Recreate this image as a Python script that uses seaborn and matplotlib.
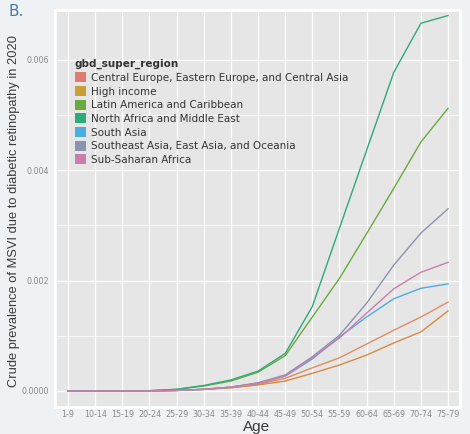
import pandas as pd
import matplotlib.pyplot as plt
import seaborn as sns
from matplotlib.patches import Patch
from matplotlib.ticker import FixedLocator

# --- DATA ---
ages = ["1-9", "10-14", "15-19", "20-24", "25-29", "30-34", "35-39", "40-44",
        "45-49", "50-54", "55-59", "60-64", "65-69", "70-74", "75-79"]

regions = ["Central Europe, Eastern Europe, and Central Asia", "High income",
           "Latin America and Caribbean", "North Africa and Middle East",
           "South Asia", "Southeast Asia, East Asia, and Oceania",
           "Sub-Saharan Africa"]

central_europe = [0, 0, 0, 0, 0.00001, 0.00003, 0.00006, 0.00012, 0.00023,
                  0.00042, 0.0006, 0.00085, 0.0011, 0.00134, 0.00161]
high_income = [0, 0, 0, 0, 0.00001, 0.00003, 0.00006, 0.00011, 0.00018,
               0.00032, 0.00047, 0.00065, 0.00087, 0.00107, 0.00145]
latin_america = [0, 0, 0, 0.000005, 0.00003, 0.00009, 0.00018, 0.00034, 0.00064,
                 0.00134, 0.00204, 0.00285, 0.00367, 0.00451, 0.00512]
north_africa = [0, 0, 0, 0.000005, 0.00003, 0.0001, 0.0002, 0.00036, 0.00068,
                0.00153, 0.00295, 0.00436, 0.00577, 0.00666, 0.0068]
south_asia = [0, 0, 0, 0, 0.00001, 0.00003, 0.00007, 0.00014, 0.00027,
              0.00058, 0.00098, 0.00134, 0.00167, 0.00186, 0.00194]
southeast_asia = [0, 0, 0, 0, 0.00001, 0.00003, 0.00007, 0.00015, 0.00029,
                  0.00062, 0.00101, 0.00159, 0.00228, 0.00286, 0.0033]
sub_saharan = [0, 0, 0, 0, 0.00001, 0.00003, 0.00007, 0.00014, 0.00027,
               0.0006, 0.00096, 0.00141, 0.00185, 0.00215, 0.00233]

series = [central_europe, high_income, latin_america, north_africa,
          south_asia, southeast_asia, sub_saharan]

legend_colors = ["#E07B72", "#C9A033", "#6AAA3F", "#2FAA7A",
                 "#4AAEE0", "#8C93B0", "#CB7EAA"]
line_colors = ["#E38B62", "#D98A3E", "#6AAA3F", "#2FAA7A",
               "#4AAEE0", "#8C93B0", "#CB7EAA"]

rows = []
for reg, vals in zip(regions, series):
    for i, v in enumerate(vals):
        rows.append({"age": i, "value": v, "gbd_super_region": reg})
df = pd.DataFrame(rows)

# --- FIGUR ---
bg = "#EEF2F5"
fig = plt.figure(figsize=(4.7, 4.34), dpi=100, facecolor=bg)
ax = fig.add_axes([55 / 470, 1 - 407 / 434, 405 / 470, 397 / 434])
ax.set_facecolor("#E6E6E6")

sns.lineplot(data=df, x="age", y="value", hue="gbd_super_region",
             palette=dict(zip(regions, line_colors)), hue_order=regions,
             linewidth=1.0, legend=False, ax=ax, zorder=3)

ax.set_xlim(-0.48, 14.44)
ax.set_ylim(-0.00029, 0.0069)
ax.set_xticks(range(len(ages)))
ax.set_xticklabels(ages)
ax.set_yticks([0, 0.002, 0.004, 0.006])
ax.set_yticklabels(["0.0000", "0.002", "0.004", "0.006"])
ax.yaxis.set_minor_locator(FixedLocator([0.001, 0.003, 0.005]))

ax.grid(which="major", color="white", linewidth=0.9, zorder=0)
ax.grid(which="minor", axis="y", color="white", linewidth=0.5, zorder=0)
ax.set_axisbelow(True)
for s in ax.spines.values():
    s.set_color("white")
    s.set_linewidth(2)

ax.tick_params(axis="both", which="both", length=0, colors="#8A8A8A")
for lab in ax.get_xticklabels() + ax.get_yticklabels():
    lab.set_fontsize(5.8)
ax.tick_params(axis="x", pad=2.5)
ax.tick_params(axis="y", pad=4)

ax.set_xlabel("")
ax.set_ylabel("")
fig.text(257 / 470, 1 - 427 / 434, "Age", fontsize=11, color="#3A3A3A",
         ha="center", va="center", family="Liberation Sans")
fig.text(14 / 470, 1 - 211 / 434,
         "Crude prevalence of MSVI due to diabetic retinopathy in 2020",
         fontsize=9.3, color="#3A3A3A", rotation=90, ha="center", va="center",
         family="Liberation Sans")

handles = [Patch(facecolor=c, edgecolor="none") for c in legend_colors]
leg = ax.legend(handles, regions, title="gbd_super_region",
                loc="upper left", bbox_to_anchor=(0.025, 0.9),
                frameon=False, fontsize=7.5, title_fontsize=7.5,
                handlelength=1.1, handleheight=1.1, handletextpad=0.5,
                labelspacing=0.3, alignment="left")
leg.get_title().set_fontweight("bold")
leg.get_title().set_color("#333333")
for t in leg.get_texts():
    t.set_color("#333333")

fig.text(8 / 470, 1 - 12 / 434, "B.", fontsize=11, color="#4A7BA6",
         va="center", ha="left")

fig.savefig("out.png", dpi=100, facecolor=bg)
